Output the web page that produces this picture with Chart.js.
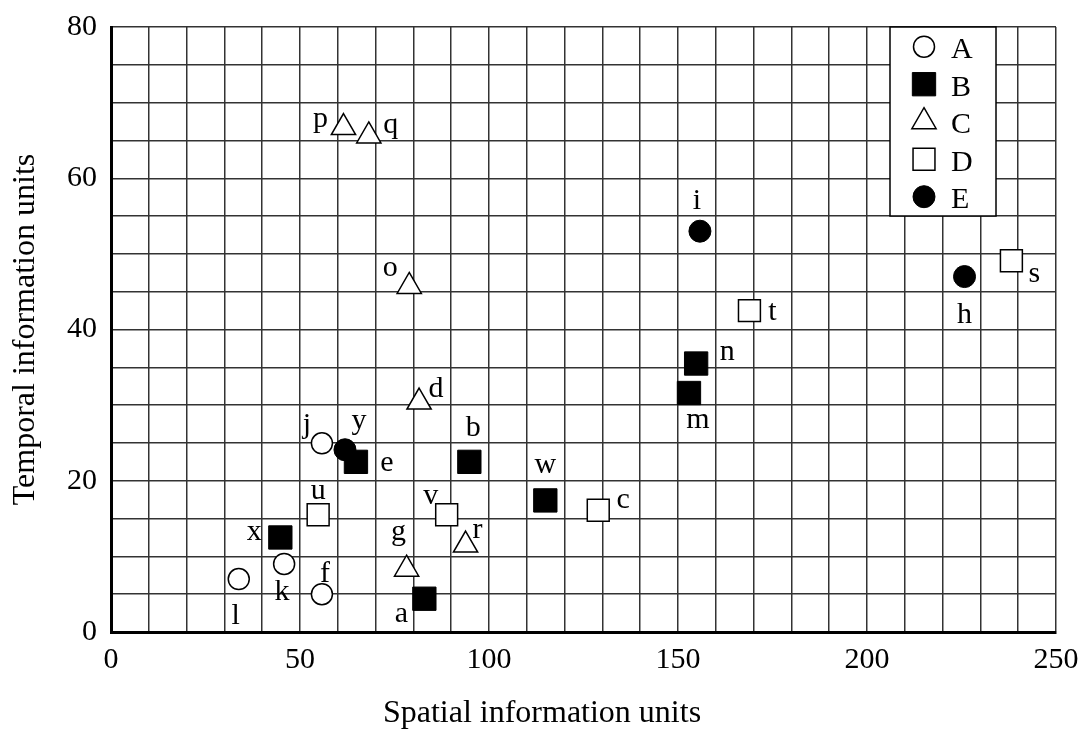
<!DOCTYPE html>
<html>
<head>
<meta charset="utf-8">
<script src="https://cdn.jsdelivr.net/npm/chart.js@4/dist/chart.umd.min.js"></script>
<style>
  html, body { margin: 0; padding: 0; background: #fff; }
  canvas { display: block; }
</style>
</head>
<body>
<canvas id="chart" width="1084" height="729"></canvas>
<script>
// series names (legend)
var seriesNames = ["A", "B", "C", "D", "E"];

// A : open circles
var aX = [55.8, 45.8, 33.8, 55.8];
var aY = [24.95, 9, 7, 5];
var aNames = ["j", "k", "l", "f"];
// B : filled squares
var bX = [82.9, 94.8, 64.8, 152.9, 154.8, 114.9, 44.8];
var bY = [4.4, 22.5, 22.5, 31.6, 35.5, 17.4, 12.5];
var bNames = ["a", "b", "e", "m", "n", "w", "x"];
// C : triangles
var cX = [81.5, 78.2, 78.9, 61.5, 68.2, 93.8];
var cY = [30.4, 8.3, 45.7, 66.7, 65.6, 11.5];
var cNames = ["d", "g", "o", "p", "q", "r"];
// D : open squares
var dX = [128.9, 238.2, 168.9, 54.8, 88.8];
var dY = [16.1, 49.1, 42.5, 15.5, 15.5];
var dNames = ["c", "s", "t", "u", "v"];
// E : filled circles
var eX = [225.8, 155.8, 61.9];
var eY = [47, 53, 24.1];
var eNames = ["h", "i", "y"];

// tick labels
var xTickLabels = [0, 50, 100, 150, 200, 250];
var yTickLabels = [0, 20, 40, 60, 80];

var xTitle = "Spatial information units";
var yTitle = "Temporal information units";

var serif = "'Liberation Serif', 'Times New Roman', serif";
Chart.defaults.font.family = serif;
Chart.defaults.color = "#000";

function toPoints(xs, ys){
    var out = [];
    for(var i=0;i<xs.length;++i){
        out.push({x: xs[i], y: ys[i]});
    }
    return out;
}

// label position relative to its mark (px, text baseline)
var labelOffsets = {
    a: [-23, 23], b: [4, -26], c: [25, -2], d: [17, -5], e: [31, 9],
    f: [3, -12], g: [-8, -29], h: [0, 46], i: [-3, -22], j: [-15, -10],
    k: [-2, 36], l: [-3, 45], m: [9, 35], n: [31, -4], o: [-19, -10],
    p: [-23, -1], q: [22, -3], r: [12, -7], s: [23, 21], t: [23, 9],
    u: [0, -16], v: [-16, -11], w: [0, -27], x: [-26, 3], y: [14, -21]
};

function marker(style, radius, fill, bw){
    return {
        pointStyle: style,
        pointRadius: radius,
        pointHoverRadius: radius,
        pointBackgroundColor: fill,
        pointBorderColor: "#000",
        pointBorderWidth: bw,
        showLine: false
    };
}

var datasets = [
    Object.assign({label: seriesNames[0], data: toPoints(aX, aY), names: aNames}, marker("circle", 10.5, "#fff", 1.5)),
    Object.assign({label: seriesNames[1], data: toPoints(bX, bY), names: bNames}, marker("rect", 16.5, "#000", 1)),
    Object.assign({label: seriesNames[2], data: toPoints(cX, cY), names: cNames}, marker("triangle", 14, "#fff", 1.5)),
    Object.assign({label: seriesNames[3], data: toPoints(dX, dY), names: dNames}, marker("rect", 15.5, "#fff", 1.5)),
    Object.assign({label: seriesNames[4], data: toPoints(eX, eY), names: eNames}, marker("circle", 11, "#000", 1))
];

function drawShape(ctx, ds, x, y){
    ctx.save();
    ctx.fillStyle = ds.pointBackgroundColor;
    ctx.strokeStyle = ds.pointBorderColor;
    ctx.lineWidth = ds.pointBorderWidth;
    if (Chart.helpers && Chart.helpers.drawPoint) {
        Chart.helpers.drawPoint(ctx, {pointStyle: ds.pointStyle, radius: ds.pointRadius, rotation: 0, borderWidth: ds.pointBorderWidth}, x, y);
    } else {
        var r = ds.pointRadius;
        ctx.beginPath();
        if (ds.pointStyle == "circle") {
            ctx.arc(x, y, r, 0, Math.PI * 2);
        } else if (ds.pointStyle == "rect") {
            var s = r * Math.SQRT1_2;
            ctx.rect(x - s, y - s, 2 * s, 2 * s);
        } else {
            ctx.moveTo(x, y - r);
            ctx.lineTo(x + r * Math.sin(Math.PI * 2 / 3), y + r / 2);
            ctx.lineTo(x - r * Math.sin(Math.PI * 2 / 3), y + r / 2);
            ctx.closePath();
        }
        ctx.fill();
        ctx.stroke();
    }
    ctx.restore();
}

// letters next to the marks, legend box, x axis title
var extras = {
    id: "extras",
    afterDatasetsDraw: function(chart){
        var ctx = chart.ctx;
        var area = chart.chartArea;

        // point letters
        ctx.save();
        ctx.font = "30px " + serif;
        ctx.fillStyle = "#000";
        ctx.textAlign = "center";
        ctx.textBaseline = "alphabetic";
        chart.data.datasets.forEach(function(ds, di){
            var meta = chart.getDatasetMeta(di);
            meta.data.forEach(function(el, i){
                var name = ds.names[i];
                var off = labelOffsets[name] || [0, -20];
                ctx.fillText(name, el.x + off[0], el.y + off[1]);
            });
        });
        ctx.restore();

        // legend
        var bx = area.right - 166, by = area.top, bw = 106, bh = 189;
        ctx.save();
        ctx.fillStyle = "#fff";
        ctx.fillRect(bx, by, bw, bh);
        ctx.strokeStyle = "#000";
        ctx.lineWidth = 1.5;
        ctx.strokeRect(bx, by, bw, bh);
        ctx.font = "30px " + serif;
        ctx.fillStyle = "#000";
        ctx.textAlign = "left";
        ctx.textBaseline = "alphabetic";
        chart.data.datasets.forEach(function(ds, di){
            var cy = by + 19.7 + 37.5 * di;
            drawShape(ctx, ds, bx + 34, cy);
            ctx.fillStyle = "#000";
            ctx.fillText(ds.label, bx + 61, cy + 11.5);
        });
        ctx.restore();

        // x axis title
        ctx.save();
        ctx.font = "32px " + serif;
        ctx.fillStyle = "#000";
        ctx.textAlign = "center";
        ctx.textBaseline = "alphabetic";
        ctx.fillText(xTitle, area.left + 431, area.bottom + 90);
        ctx.restore();
    }
};

// fixed axis sizes, no extra padding from the tick labels
function fixScale(size){
    return function(scale){
        if (scale.isHorizontal()) scale.height = size; else scale.width = size;
        scale.paddingTop = 0;
        scale.paddingBottom = 0;
        scale.paddingLeft = 0;
        scale.paddingRight = 0;
    };
}

var ctx1 = document.getElementById("chart");
var chart = new Chart(ctx1, {
    type: "scatter",
    data: { datasets: datasets },
    options: {
        responsive: false,
        animation: false,
        layout: { autoPadding: false, padding: { top: 27, right: 28, bottom: 0, left: 0 } },
        plugins: {
            legend: { display: false },
            tooltip: { enabled: false }
        },
        scales: {
            x: {
                type: "linear",
                min: 0,
                max: 250,
                afterFit: fixScale(97),
                ticks: {
                    stepSize: 10,
                    autoSkip: false,
                    maxRotation: 0,
                    padding: 10,
                    font: { size: 30 },
                    callback: function(v){ return xTickLabels.indexOf(v) >= 0 ? String(v) : ""; }
                },
                grid: { color: "#333", lineWidth: 1.5, drawTicks: false },
                border: { color: "#000", width: 3 }
            },
            y: {
                type: "linear",
                min: 0,
                max: 80,
                afterFit: fixScale(111),
                ticks: {
                    stepSize: 5,
                    autoSkip: false,
                    padding: 14,
                    font: { size: 30 },
                    callback: function(v){ return yTickLabels.indexOf(v) >= 0 ? String(v) : ""; }
                },
                grid: { color: "#333", lineWidth: 1.5, drawTicks: false },
                border: { color: "#000", width: 3 },
                title: {
                    display: true,
                    text: yTitle,
                    font: { size: 32 },
                    padding: { top: 6, bottom: 0 }
                }
            }
        }
    },
    plugins: [extras]
});
</script>
</body>
</html>
